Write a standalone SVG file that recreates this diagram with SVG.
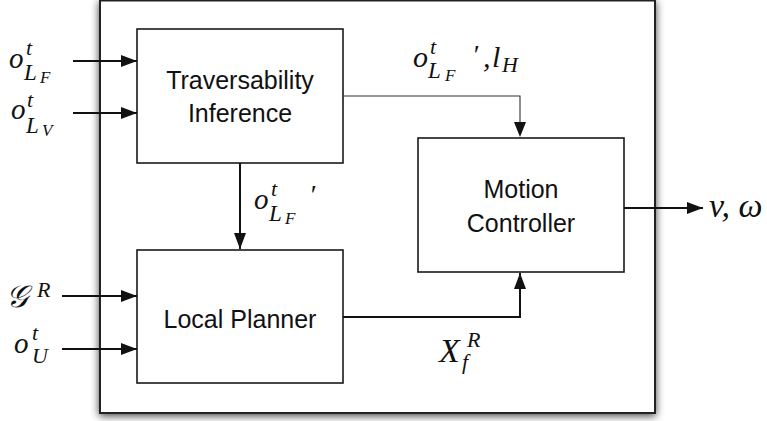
<svg xmlns="http://www.w3.org/2000/svg" width="767" height="421" viewBox="0 0 767 421">
<style>
.box{fill:#fff;stroke:#1a1a1a;stroke-width:1.6}
.lbl{font-family:"Liberation Sans",Arial,sans-serif;font-size:25px;fill:#111;text-anchor:middle}
.m{font-family:"Liberation Serif","Times New Roman",serif;font-style:italic;fill:#111}
.w{fill:none;stroke:#111;stroke-width:2}
.thin{fill:none;stroke:#333;stroke-width:1.1}
</style>
<defs>
<filter id="sh" x="-10%" y="-10%" width="120%" height="120%">
<feGaussianBlur in="SourceAlpha" stdDeviation="4"/>
<feOffset dx="0" dy="2" result="b"/>
<feComponentTransfer><feFuncA type="linear" slope="0.75"/></feComponentTransfer>
<feMerge><feMergeNode/><feMergeNode in="SourceGraphic"/></feMerge>
</filter>
<marker id="ah" viewBox="0 0 16 12" refX="16" refY="6" markerWidth="16" markerHeight="12" markerUnits="userSpaceOnUse" orient="auto">
<path d="M0,0 L16,6 L0,12 z" fill="#111"/>
</marker>
</defs>
<rect width="767" height="421" fill="#fff"/>
<g id="outer">
<rect x="100" y="0.5" width="555" height="412.5" fill="#fff" stroke="#222" stroke-width="2" filter="url(#sh)"/>
</g>
<g id="traversability">
<rect class="box" x="137" y="29" width="206" height="134"/>
<text class="lbl" x="240" y="89">Traversability</text>
<text class="lbl" x="240" y="122">Inference</text>
</g>
<g id="motion">
<rect class="box" x="418" y="138" width="206" height="134"/>
<text class="lbl" x="521" y="198">Motion</text>
<text class="lbl" x="521" y="232">Controller</text>
</g>
<g id="planner">
<rect class="box" x="137" y="250" width="206" height="133"/>
<text class="lbl" x="240" y="328">Local Planner</text>
</g>
<g id="connectors">
<line class="w" x1="73" y1="61" x2="137" y2="61" marker-end="url(#ah)"/>
<line class="w" x1="73" y1="113" x2="137" y2="113" marker-end="url(#ah)"/>
<line class="w" x1="62" y1="296" x2="137" y2="296" marker-end="url(#ah)"/>
<line class="w" x1="62" y1="349" x2="137" y2="349" marker-end="url(#ah)"/>
<path class="thin" d="M343,96 H520 V122"/>
<path d="M514,122 L520,137 L526,122 z" fill="#111"/>
<line class="w" x1="240" y1="163" x2="240" y2="249" marker-end="url(#ah)"/>
<path class="w" d="M343,317 H520 V273" marker-end="url(#ah)"/>
<line class="w" x1="624" y1="208" x2="703" y2="208" marker-end="url(#ah)"/>
</g>
<g id="labels">
<text class="m" x="9" y="68" font-size="29">o</text>
<text class="m" x="26" y="55" font-size="22">t</text>
<text class="m" x="24" y="80" font-size="23">L</text>
<text class="m" x="40" y="83" font-size="17">F</text>

<text class="m" x="11" y="119" font-size="29">o</text>
<text class="m" x="27" y="107" font-size="22">t</text>
<text class="m" x="26" y="133" font-size="23">L</text>
<text class="m" x="42" y="136" font-size="17">V</text>

<text class="m" x="254" y="209" font-size="29">o</text>
<text class="m" x="271" y="196" font-size="22">t</text>
<text class="m" x="269" y="221" font-size="23">L</text>
<text class="m" x="285" y="224" font-size="17">F</text>
<text class="m" x="309" y="204" font-size="28">′</text>

<text class="m" x="413" y="67" font-size="30">o</text>
<text class="m" x="430" y="54" font-size="22">t</text>
<text class="m" x="428" y="78" font-size="23">L</text>
<text class="m" x="445" y="81" font-size="17">F</text>
<text class="m" x="472" y="64" font-size="28">′</text>
<text class="m" x="483" y="67" font-size="30">,</text>
<text class="m" x="492" y="67" font-size="30">l</text>
<text class="m" x="502" y="72" font-size="22">H</text>

<text class="m" x="6" y="307" font-size="31">𝒢</text>
<text class="m" x="37" y="297" font-size="22">R</text>

<text class="m" x="14" y="353" font-size="29">o</text>
<text class="m" x="32" y="340" font-size="22">t</text>
<text class="m" x="32" y="363" font-size="22">U</text>

<text class="m" x="439" y="362" font-size="34">X</text>
<text class="m" x="467" y="347" font-size="22">R</text>
<text class="m" x="462" y="369" font-size="22">f</text>

<text class="m" x="709" y="217" font-size="34">v, ω</text>
</g>
</svg>
